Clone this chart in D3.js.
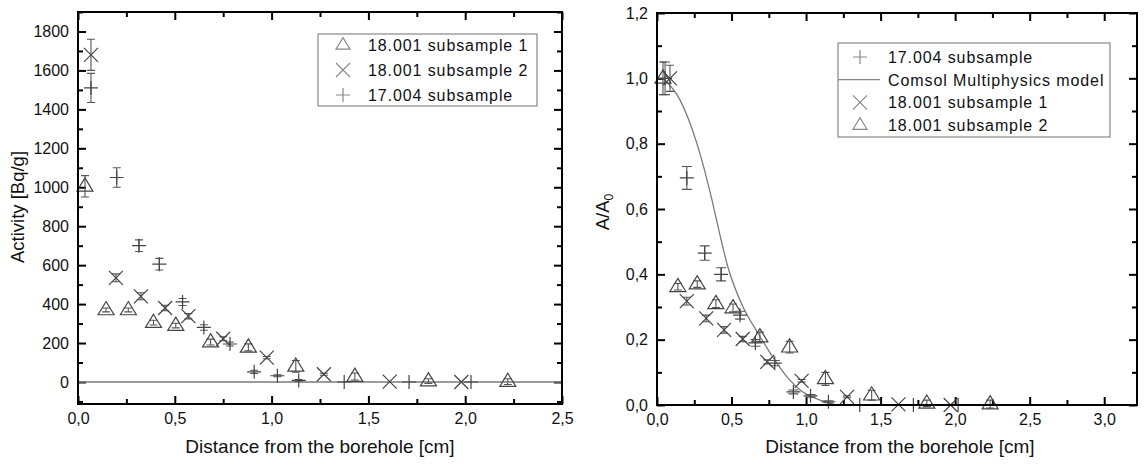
<!DOCTYPE html>
<html>
<head>
<meta charset="utf-8">
<script src="https://cdn.jsdelivr.net/npm/d3@7/dist/d3.min.js"></script>
<style>
  body { margin: 0; background: #fff; }
  text { font-family: "Liberation Sans", Arial, sans-serif; fill: #111; }
</style>
</head>
<body>
<svg id="chart" width="1146" height="465"></svg>
<script>
// ---- left panel : activity [Bq/g] ----
// 17.004 subsample (+)
const actPlusX   = [0.067, 0.20, 0.315, 0.42, 0.54, 0.65, 0.785, 0.91, 1.03, 1.14, 1.375, 1.71, 2.03]
const actPlusY   = [1510, 1050, 700, 605, 411, 280, 195, 52, 32, 8, 0, 0, 0]
const actPlusErr = [75, 50, 30, 30, 18, 14, 10, 8, 5, 4, 0, 0, 0]
// 18.001 subsample 1 (triangle)
const actTriX    = [0.036, 0.145, 0.26, 0.39, 0.505, 0.685, 0.88, 1.125, 1.43, 1.81, 2.22]
const actTriY    = [1005, 370, 370, 305, 290, 205, 178, 80, 28, 5, 2]
const actTriErr  = [55, 10, 10, 12, 12, 15, 18, 30, 18, 12, 15]
// 18.001 subsample 2 (x)
const actCrossX  = [0.067, 0.196, 0.325, 0.45, 0.57, 0.75, 0.975, 1.27, 1.61, 1.98]
const actCrossY  = [1680, 535, 440, 380, 338, 222, 125, 40, 2, 0]
const actCrossErr= [80, 20, 18, 14, 14, 10, 6, 5, 0, 0]

// ---- right panel : A/A0 ----
const relPlusX   = [0.054, 0.20, 0.32, 0.43, 0.557, 0.66, 0.79, 0.915, 1.03, 1.15, 1.36, 1.72, 2.02]
const relPlusY   = [1.0, 0.695, 0.465, 0.40, 0.275, 0.19, 0.128, 0.04, 0.028, 0.01, 0, 0, 0]
const relPlusErr = [0.05, 0.035, 0.022, 0.02, 0.012, 0.01, 0.008, 0.006, 0.004, 0.003, 0, 0, 0]
const modelX     = [0.04, 0.154, 0.268, 0.369, 0.40, 0.477, 0.577, 0.671, 0.779, 0.872, 0.96, 1.094, 1.23, 1.5, 2.0]
const modelY     = [1.0, 0.934, 0.80, 0.627, 0.565, 0.42, 0.30, 0.225, 0.145, 0.086, 0.046, 0.015, 0.0, 0.0, 0.0]
// 18.001 subsample 1 (x)
const relCrossX  = [0.087, 0.20, 0.33, 0.45, 0.575, 0.74, 0.97, 1.275, 1.62, 1.97]
const relCrossY  = [1.0, 0.318, 0.265, 0.23, 0.202, 0.132, 0.074, 0.025, 0.002, 0]
const relCrossErr= [0.04, 0.012, 0.01, 0.01, 0.008, 0.006, 0.004, 0.003, 0, 0]
// 18.001 subsample 2 (triangle)
const relTriX    = [0.04, 0.14, 0.27, 0.395, 0.51, 0.69, 0.89, 1.13, 1.44, 1.81, 2.235]
const relTriY    = [1.0, 0.362, 0.37, 0.31, 0.297, 0.208, 0.177, 0.08, 0.03, 0.005, 0.003]
const relTriErr  = [0.05, 0.01, 0.01, 0.012, 0.012, 0.015, 0.018, 0.02, 0.015, 0.01, 0.012]

const comma = d3.format(".1f")
const fmt1 = v => comma(v).replace(".", ",")

const svg = d3.select("#chart")
const markCol = "#444", errCol = "#555"

function symbol(g, type, x, y, s, col) {
  if (type == "tri") {
    g.append("path").attr("d", `M${x},${y - s * 1.05}L${x + s},${y + s * 0.6}L${x - s},${y + s * 0.6}Z`)
      .attr("fill", "none").attr("stroke", col).attr("stroke-width", 1.2)
  } else if (type == "cross") {
    g.append("path").attr("d", `M${x - s},${y - s}L${x + s},${y + s}M${x - s},${y + s}L${x + s},${y - s}`)
      .attr("stroke", col).attr("stroke-width", 1.2)
  } else {
    g.append("path").attr("d", `M${x - s},${y}L${x + s},${y}M${x},${y - s}L${x},${y + s}`)
      .attr("stroke", col).attr("stroke-width", 1.2)
  }
}

function panel(o) {
  const g = svg.append("g")
  const x = d3.scaleLinear().domain(o.xd).range(o.xr)
  const y = d3.scaleLinear().domain(o.yd).range(o.yr)
  const [x0, x1] = o.xr, [y0, y1] = o.yr   // y0 bottom, y1 top

  // ticks on four sides, pointing inwards
  const axes = [
    [d3.axisBottom(x), `translate(0,${y0})`, o.xMaj, o.xMin, true, o.xf],
    [d3.axisTop(x), `translate(0,${y1})`, o.xMaj, o.xMin, false],
    [d3.axisLeft(y), `translate(${x0},0)`, o.yMaj, o.yMin, true, o.yf],
    [d3.axisRight(y), `translate(${x1},0)`, o.yMaj, o.yMin, false]
  ]
  axes.forEach(([ax, tr, maj, min, lab, f]) => {
    const a1 = g.append("g").attr("transform", tr)
      .call(ax.tickValues(maj).tickSize(-8).tickPadding(9).tickFormat(lab ? f : ""))
    a1.select(".domain").remove()
    a1.selectAll("line").attr("stroke", "#000").attr("stroke-width", 2)
    a1.selectAll("text").style("font-size", "16px").attr("fill", "#111")
    const a2 = g.append("g").attr("transform", tr)
      .call(ax.tickValues(min).tickSize(-5).tickFormat(""))
    a2.select(".domain").remove()
    a2.selectAll("line").attr("stroke", "#000").attr("stroke-width", 2)
  })

  // lines
  o.lines.forEach(l => {
    g.append("path").datum(l.x.map((v, i) => [v, l.y[i]]))
      .attr("d", d3.line().curve(d3.curveMonotoneX).x(d => x(d[0])).y(d => y(d[1])))
      .attr("fill", "none").attr("stroke", "#7a7a7a").attr("stroke-width", 1.3)
  })

  // error bars then markers
  o.series.forEach(s => {
    const sg = g.append("g")
    s.x.forEach((v, i) => {
      const px = x(v), py = y(s.y[i])
      const e = s.err[i]
      if (e > 0) {
        const ya = y(s.y[i] + e), yb = y(s.y[i] - e)
        sg.append("path").attr("d", `M${px},${ya}L${px},${yb}M${px - s.cap},${ya}L${px + s.cap},${ya}M${px - s.cap},${yb}L${px + s.cap},${yb}`)
          .attr("stroke", errCol).attr("stroke-width", 1.1).attr("fill", "none")
      }
      symbol(sg, s.type, px, py, s.size, markCol)
    })
  })

  // frame
  g.append("rect").attr("x", x0).attr("y", y1).attr("width", x1 - x0).attr("height", y0 - y1)
    .attr("fill", "none").attr("stroke", "#000").attr("stroke-width", 2)

  // titles
  g.append("text").attr("x", (x0 + x1) / 2 + o.xtOff).attr("y", 453).attr("text-anchor", "middle")
    .style("font-size", "19px").text("Distance from the borehole [cm]")
  const yt = g.append("text").attr("transform", `translate(${o.ytX},${o.ytY}) rotate(-90)`)
    .attr("text-anchor", "middle").style("font-size", "18.5px")
  o.ytitle(yt)

  // legend
  const L = o.legend
  g.append("rect").attr("x", L.x).attr("y", L.y).attr("width", L.w).attr("height", L.h)
    .attr("fill", "#fff").attr("stroke", "#888").attr("stroke-width", 1.2)
  L.items.forEach((it, i) => {
    const cy = L.y + L.top + i * L.step
    if (it.type == "line") {
      g.append("line").attr("x1", L.x).attr("x2", L.x + 42).attr("y1", cy).attr("y2", cy)
        .attr("stroke", "#888").attr("stroke-width", 1.2)
    } else {
      symbol(g, it.type, L.x + L.sym, cy, 7, "#888")
    }
    g.append("text").attr("x", L.x + L.tx).attr("y", cy + 6).style("font-size", L.fs)
      .style("letter-spacing", "0.9px").text(it.label)
  })
}

panel({
  xd: [0, 2.5], xr: [78, 562], yd: [-113, 1900], yr: [404, 12],
  xMaj: d3.range(0, 2.51, 0.5), xMin: d3.range(0.25, 2.5, 0.5),
  yMaj: d3.range(0, 1801, 200), yMin: d3.range(-100, 1901, 200),
  xf: fmt1, yf: d3.format("d"), xtOff: 0,
  ytX: 24, ytY: 207,
  ytitle: t => t.text("Activity [Bq/g]"),
  lines: [{x: [0, 2.5], y: [0, 0]}],
  series: [
    {type: "plus", x: actPlusX, y: actPlusY, err: actPlusErr, size: 7, cap: 4},
    {type: "tri", x: actTriX, y: actTriY, err: actTriErr, size: 8, cap: 4},
    {type: "cross", x: actCrossX, y: actCrossY, err: actCrossErr, size: 7, cap: 4}
  ],
  legend: {x: 318, y: 34, w: 219, h: 72, top: 11, step: 25, sym: 25, tx: 50, fs: "16px",
    items: [{type: "tri", label: "18.001 subsample 1"}, {type: "cross", label: "18.001 subsample 2"},
            {type: "plus", label: "17.004 subsample"}]}
})

panel({
  xd: [0, 3.22], xr: [657, 1137], yd: [0, 1.2], yr: [405, 13],
  xMaj: d3.range(0, 3.01, 0.5), xMin: d3.range(0.25, 3.22, 0.5),
  yMaj: d3.range(0, 1.201, 0.2), yMin: d3.range(0.1, 1.2, 0.2),
  xf: fmt1, yf: fmt1, xtOff: 3,
  ytX: 609, ytY: 212,
  ytitle: t => { t.append("tspan").text("A/A"); t.append("tspan").attr("baseline-shift", "-30%").style("font-size", "12px").text("0") },
  lines: [{x: modelX, y: modelY}],
  series: [
    {type: "plus", x: relPlusX, y: relPlusY, err: relPlusErr, size: 7, cap: 5},
    {type: "cross", x: relCrossX, y: relCrossY, err: relCrossErr, size: 7, cap: 4},
    {type: "tri", x: relTriX, y: relTriY, err: relTriErr, size: 8, cap: 4}
  ],
  legend: {x: 838, y: 43, w: 272, h: 94, top: 14, step: 22.7, sym: 22, tx: 50, fs: "16px",
    items: [{type: "plus", label: "17.004 subsample"}, {type: "line", label: "Comsol Multiphysics model"},
            {type: "cross", label: "18.001 subsample 1"}, {type: "tri", label: "18.001 subsample 2"}]}
})
</script>
</body>
</html>
